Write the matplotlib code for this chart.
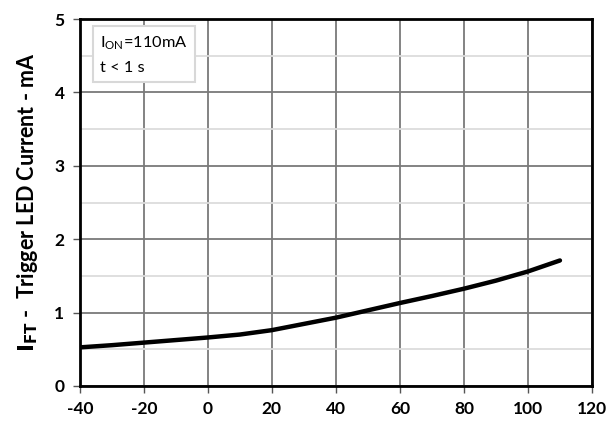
import matplotlib
matplotlib.use("Agg")
import matplotlib.pyplot as plt
from matplotlib.ticker import MultipleLocator

plt.rcParams['font.family'] = ['Lato', 'DejaVu Sans']
plt.rcParams['axes.unicode_minus'] = False

temperature = [-40, -30, -20, -10, 0, 10, 20, 30, 40, 50, 60, 70, 80, 90, 100, 110]
ift_ma = [0.525, 0.555, 0.59, 0.625, 0.66, 0.70, 0.76, 0.845, 0.93, 1.03, 1.13, 1.225, 1.325, 1.435, 1.56, 1.71]

x_ticks = [-40, -20, 0, 20, 40, 60, 80, 100, 120]
y_ticks = [0, 1, 2, 3, 4, 5]

fig = plt.figure(figsize=(6.09, 4.25), dpi=100)
ax = fig.add_axes([0.131, 0.092, 0.841, 0.863])

ax.set_xlim(-40, 120)
ax.set_ylim(0, 5)
ax.set_xticks(x_ticks)
ax.set_yticks(y_ticks)
ax.yaxis.set_minor_locator(MultipleLocator(0.5))
ax.grid(which='major', color='#7a7a7a', linewidth=1.3)
ax.grid(which='minor', axis='y', color='#dcdcdc', linewidth=1.3)
ax.tick_params(which='minor', length=0)
ax.tick_params(which='major', direction='out', length=5, width=1, color='#555555', labelsize=12.5, pad=6)
for lbl in ax.get_xticklabels() + ax.get_yticklabels():
    lbl.set_fontweight('bold')
ax.set_axisbelow(True)
for s in ax.spines.values():
    s.set_linewidth(2)
    s.set_color('black')

ax.plot(temperature, ift_ma, color='black', linewidth=3.2, solid_capstyle='round')

ax.set_ylabel(r'$\mathbf{I_{FT}}$ -  Trigger LED Current - mA', fontsize=15.5, fontweight='bold', labelpad=10)

ax.text(0.04, 0.958, r'I$_{\mathregular{ON}}$=110mA' + '\nt < 1 s', transform=ax.transAxes,
        fontsize=11.8, va='top', ha='left', linespacing=1.8,
        bbox=dict(boxstyle='square,pad=0.42', facecolor='white', edgecolor='#d8d8d8', linewidth=1.5))

fig.savefig('out.png', dpi=100)
